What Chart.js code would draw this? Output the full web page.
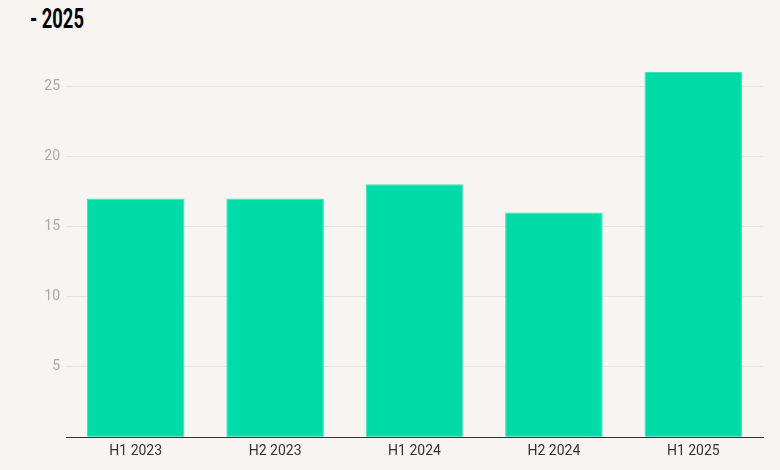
<!DOCTYPE html>
<html>
<head>
<meta charset="utf-8">
<script src="https://cdn.jsdelivr.net/npm/chart.js@4/dist/chart.umd.min.js"></script>
<style>
  html, body { margin: 0; padding: 0; background: #f7f4f1; }
  #wrap { position: relative; width: 780px; height: 470px; }
  #title {
    position: absolute; left: 30px; top: 3px;
    font-family: Roboto, sans-serif;
    font-weight: 700; font-size: 27px; color: #000;
    white-space: nowrap;
    transform: scaleX(0.68);
    transform-origin: left top;
  }
  canvas { position: absolute; left: 0; top: 0; }
</style>
</head>
<body>
<div id="wrap">
  <div id="title">- 2025</div>
  <canvas id="chart" width="780" height="470"></canvas>
</div>
<script>
"use strict";

const periods = ["H1 2023", "H2 2023", "H1 2024", "H2 2024", "H1 2025"];
const counts = [17, 17, 18, 16, 26];
const yTicks = [0, 5, 10, 15, 20, 25];

const ctx = document.getElementById("chart").getContext("2d");

new Chart(ctx, {
  type: "bar",
  data: {
    labels: periods,
    datasets: [
      {
        data: counts,
        backgroundColor: "#00dba8",
        borderColor: "#3fe2bb",
        borderWidth: 1,
        borderSkipped: "bottom",
        barPercentage: 0.7,
        categoryPercentage: 1
      }
    ]
  },
  options: {
    responsive: false,
    animation: false,
    layout: { padding: { top: 72, right: 17, bottom: 4, left: 0 } },
    plugins: {
      legend: { display: false },
      tooltip: { enabled: false }
    },
    scales: {
      x: {
        grid: { display: false, drawTicks: false },
        border: { display: true, color: "#333333", width: 1 },
        ticks: {
          color: "#333333",
          padding: 6,
          font: { family: "Roboto", size: 14 }
        }
      },
      y: {
        min: 0,
        max: 26,
        afterBuildTicks: (axis) => {
          axis.ticks = yTicks.map((v) => ({ value: v }));
        },
        afterFit: (axis) => {
          axis.width = 66;
        },
        grid: { color: "#e8e5e2", drawTicks: false },
        border: { display: false },
        ticks: {
          color: "#aaaaaa",
          padding: 6,
          font: { family: "Roboto", size: 14 },
          callback: (v) => (v === 0 ? "" : v)
        }
      }
    }
  }
});
</script>
</body>
</html>
